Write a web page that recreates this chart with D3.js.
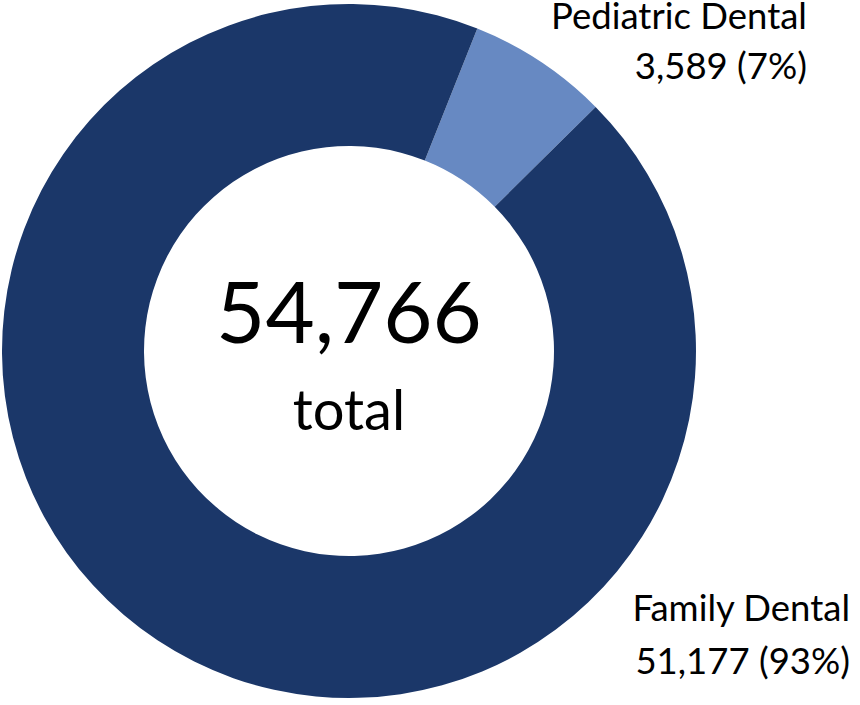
<!DOCTYPE html>
<html>
<head>
<meta charset="utf-8">
<script src="https://cdn.jsdelivr.net/npm/d3@7"></script>
<style>
  html, body { margin: 0; padding: 0; background: #fff; }
  svg { display: block; }
  text { font-family: Lato, "Open Sans", sans-serif; fill: #000; }
</style>
</head>
<body>
<svg id="chart" width="860" height="705"></svg>
<script>
const categories = ["Pediatric Dental", "Family Dental"];
const values = [3589, 51177];
const percents = ["7%", "93%"];
const colors = ["#6789c2", "#1b3769"];
const totalLabel = "total";

const svg = d3.select("#chart");
const cx = 349, cy = 351, outerR = 347, innerR = 205;
const total = d3.sum(values);
const fmt = d3.format(",");

const pie = d3.pie().sort(null).value(d => d.value)
  .startAngle(21.7 * Math.PI / 180)
  .endAngle(21.7 * Math.PI / 180 + 2 * Math.PI);
const data = categories.map((c, i) => ({ name: c, value: values[i], pct: percents[i], color: colors[i] }));
const arc = d3.arc().innerRadius(innerR).outerRadius(outerR);

const g = svg.append("g").attr("transform", `translate(${cx},${cy})`);
g.selectAll("path").data(pie(data)).join("path")
  .attr("d", arc).attr("fill", d => d.data.color);

g.append("text").attr("text-anchor", "middle").attr("y", -8)
  .attr("font-size", 85).text(fmt(total));
g.append("text").attr("text-anchor", "middle").attr("y", 79)
  .attr("font-size", 56).text(totalLabel);

const labelPos = [
  { x: 807, y: 29, dy: 50 },
  { x: 850, y: 621, dy: 53 }
];
data.forEach((d, i) => {
  const t = svg.append("text").attr("text-anchor", "end")
    .attr("font-size", 36.5)
    .attr("transform", `translate(${labelPos[i].x},${labelPos[i].y})`);
  t.append("tspan").attr("x", 0).attr("y", 0).text(d.name);
  t.append("tspan").attr("x", 0).attr("y", labelPos[i].dy).text(`${fmt(d.value)} (${d.pct})`);
});
</script>
</body>
</html>
